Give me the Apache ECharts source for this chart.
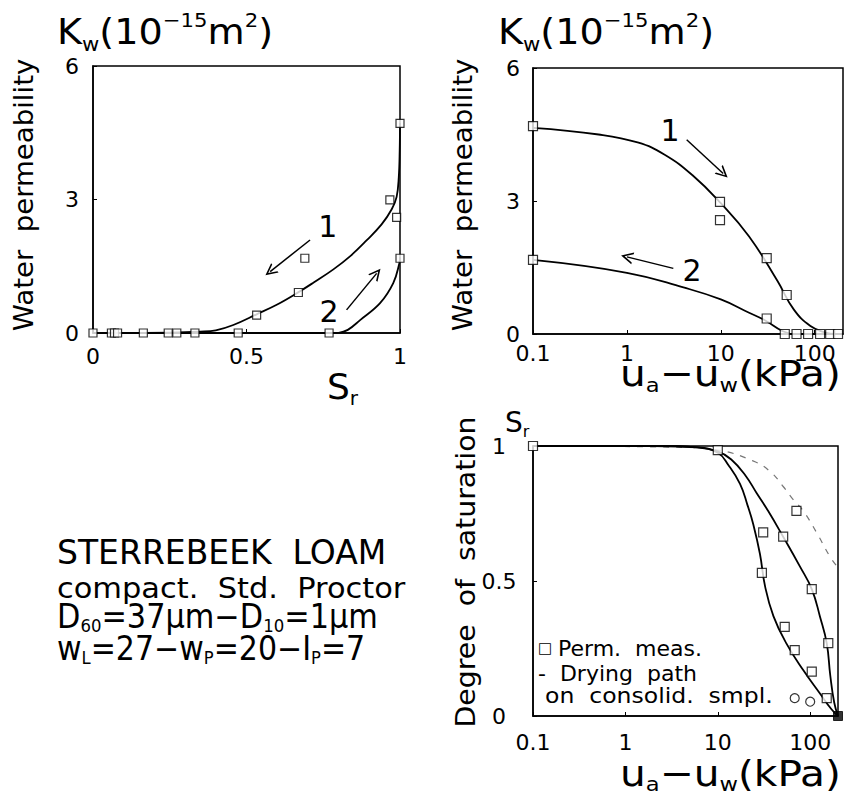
<!DOCTYPE html>
<html><head><meta charset="utf-8">
<script src="https://cdn.jsdelivr.net/npm/echarts@6/dist/echarts.min.js"></script>
<style>html,body{margin:0;padding:0;background:#fff}#c{width:845px;height:796px}</style>
</head><body><div id="c"></div>
<script>
// ---------- data: left panel (Kw vs Sr) ----------
const leftCurve1 = [[0,0],[0.25,0.01],[0.35,0.03],[0.4,0.06],[0.457,0.18],[0.533,0.42],[0.6,0.64],[0.663,0.89],[0.72,1.14],[0.783,1.43],[0.84,1.74],[0.891,2.08],[0.94,2.44],[0.973,2.78],[0.989,3.06],[0.996,3.5],[0.999,4.1],[1.0,4.72]];
const leftCurve2 = [[0,0],[0.78,0],[0.8,0.005],[0.83,0.07],[0.87,0.29],[0.935,0.67],[0.978,1.12],[0.998,1.57],[1.0,1.7]];
const leftMarkers = [[0,0],[0.06,0],[0.07,0],[0.08,0],[0.164,0],[0.245,0],[0.273,0],[0.332,0],[0.473,0],[0.769,0],[0.533,0.4],[0.669,0.91],[0.69,1.68],[0.967,2.99],[0.989,2.6],[1.0,4.71],[1.0,1.68]];
const leftArrows = [[[0.707,2.09],[0.577,1.38]],[[0.826,0.52],[0.924,1.34]]];
const leftLabels = [['1',0.765,2.40],['2',0.769,0.49]];

// ---------- data: top right panel (Kw vs suction) ----------
const rightCurve1 = [[0.1,4.65],[0.5,4.5],[1.3,4.32],[2.5,4.05],[5,3.58],[10,2.95],[20,2.2],[40,1.2],[60,0.55],[90,0.18],[130,0.03],[165,0],[200,0]];
const rightCurve2 = [[0.1,1.67],[1,1.38],[4,1.05],[10,0.78],[20,0.48],[30,0.3],[45,0.07],[60,0],[200,0]];
const rightMarkers = [[0.1,4.69],[9.8,2.98],[9.8,2.57],[30.8,1.71],[50.3,0.88],[48,0],[64,0],[85,0],[114,0],[146,0],[177,0],[0.1,1.67],[30.8,0.35]];
const rightArrows = [[[4.33,4.38],[10.6,3.62]],[[3.12,1.48],[1.0,1.74]]];
const rightLabels = [['1',2.88,4.6],['2',4.93,1.44]];

// ---------- data: bottom right panel (Sr vs suction) ----------
const satCurveA = [[0.1,1],[2,1],[6,0.995],[10,0.975],[13,0.93],[17.4,0.86],[21,0.78],[24.2,0.71],[28.6,0.6],[32.5,0.48],[40,0.37],[55,0.27],[84,0.17],[127,0.084],[170,0.025],[200,0]];
const satCurveB = [[0.1,1],[2,1],[6,0.995],[10,0.98],[14,0.95],[20,0.89],[26.4,0.825],[35,0.76],[51,0.664],[77.6,0.553],[104,0.47],[127.7,0.368],[151,0.27],[165,0.15],[182,0.05],[200,0]];
const satDrying = [[0.1,1],[4,0.995],[10,0.985],[24,0.945],[37,0.905],[51,0.85],[66,0.8],[84,0.76],[117,0.68],[164,0.59],[200,0.55]];
const satSquares = [[0.1,1],[10,0.985],[31,0.68],[30,0.53],[51,0.664],[71,0.76],[104,0.47],[53,0.33],[68,0.244],[104,0.164],[157,0.27],[151,0.066]];
const satCircles = [[68,0.066],[100,0.053]];
const satFilled = [[200,0]];

// ---------- tick labels ----------
const leftXTicks = ['0','0.5','1'];
const leftYTicks = ['0','3','6'];
const satYTicks = ['0','0.5','1'];
const logTicks = ['0.1','1','10','100'];

const FONT = 'DejaVu Sans';
const BLACK = '#000';
const CHEVRON = 'path://M5,0 L10,10 L8.5,10 L5,3 L1.5,10 L0,10 Z';

function logFmt(v){
  const l = Math.log10(v);
  if (Math.abs(l - Math.round(l)) < 1e-6) { return logTicks[Math.round(l) + 1] || ''; }
  return '';
}
function axisBase(extra){
  return Object.assign({
    axisLine:{show:true, lineStyle:{color:BLACK, width:1.5}},
    axisTick:{show:true, inside:true, length:4, lineStyle:{color:BLACK, width:1}},
    splitLine:{show:false},
  }, extra);
}
function lbl(margin, align){
  const o = {color:BLACK, fontSize:22, lineHeight:20, fontFamily:FONT, margin:margin};
  if (align) o.align = align;
  return o;
}
function curve(data, xi, extra){
  return Object.assign({type:'line', xAxisIndex:xi, yAxisIndex:xi, data:data, showSymbol:false, symbol:'none',
    smooth:0.45, lineStyle:{color:BLACK, width:1.8}, z:3, silent:true}, extra||{});
}
function markers(data, xi, size, extra){
  return Object.assign({type:'scatter', xAxisIndex:xi, yAxisIndex:xi, data:data, symbol:'rect', symbolSize:size,
    itemStyle:{color:'#fff', borderColor:BLACK, borderWidth:1.2}, clip:false, z:5, silent:true}, extra||{});
}
function arrows(list){
  return {silent:true, symbol:['none', CHEVRON], symbolSize:12, label:{show:false},
    itemStyle:{color:BLACK},
    lineStyle:{color:BLACK, width:1.5, type:'solid'}, emphasis:{disabled:true},
    data: list.map(a => [{coord:a[0]},{coord:a[1]}])};
}
function curveLabels(list){
  return {silent:true, symbol:'circle', symbolSize:1, itemStyle:{color:'rgba(0,0,0,0)'},
    label:{show:true, position:'inside', formatter:'{b}', color:BLACK, fontSize:30, fontFamily:FONT},
    data: list.map(l => ({name:l[0], coord:[l[1], l[2]]}))};
}

// ---------- text with sub/superscripts: a group of text pieces laid out left to right ----------
const measureCtx = document.createElement('canvas').getContext('2d');
function mixed(x, yCenter, parts, base, sx, subShift){
  const subSize = Math.round(base * 0.56);
  const shift = (subShift || 0.33) * base;
  let cx = 0; const children = [];
  parts.forEach(([t, k]) => {
    const size = k === 'b' ? base : subSize;
    const dy = k === 'b' ? 0 : (k === 's' ? shift : -shift);
    measureCtx.font = size + 'px "' + FONT + '"';
    children.push({type:'text', x:cx, y:dy, silent:true,
      style:{text:t, fontSize:size, lineHeight:Math.round(size*0.6), fontFamily:FONT, fill:BLACK, align:'left', verticalAlign:'middle'}});
    cx += measureCtx.measureText(t).width;
  });
  return {type:'group', x:x, y:yCenter, scaleX:sx || 1, silent:true, children:children};
}
function plainText(x, y, text, size, sx){
  return {type:'text', x:x, y:y, scaleX:sx||1, silent:true,
    style:{text:text, fontSize:size, fontFamily:FONT, fill:BLACK, align:'left', verticalAlign:'middle'}};
}
function vText(x, y, text, size, sx){
  return {type:'text', x:x, y:y, rotation:Math.PI/2, scaleX:sx||1, silent:true,
    style:{text:text, fontSize:size, fontFamily:FONT, fill:BLACK, align:'center', verticalAlign:'middle'}};
}

const KW = [['K','b'],['w','s'],['(10','b'],['−15','p'],['m','b'],['2','p'],[')','b']];
const SUCTION = [['u','b'],['a','s'],['−u','b'],['w','s'],['(kPa)','b']];
const SR = [['S','b'],['r','s']];
const LINE3 = [['D','b'],['60','s'],['=37μm−D','b'],['10','s'],['=1μm','b']];
const LINE4 = [['w','b'],['L','s'],['=27−w','b'],['P','s'],['=20−I','b'],['P','s'],['=7','b']];

const option = {
  animation:false,
  backgroundColor:'#fff',
  textStyle:{fontFamily:FONT},
  grid:[
    {left:93, top:66, width:307, height:267, show:true, borderColor:BLACK, borderWidth:1.5, backgroundColor:'transparent', outerBoundsMode:'none', containLabel:false},
    {left:533, top:68, width:310, height:266, show:true, borderColor:BLACK, borderWidth:1.5, backgroundColor:'transparent', outerBoundsMode:'none', containLabel:false},
    {left:533, top:446, width:305, height:270, show:true, borderColor:BLACK, borderWidth:1.5, backgroundColor:'transparent', outerBoundsMode:'none', containLabel:false}
  ],
  xAxis:[
    axisBase({gridIndex:0, type:'value', min:0, max:1, interval:0.5,
      axisLabel:Object.assign(lbl(13), {formatter:(v)=>leftXTicks[Math.round(v*2)]})}),
    axisBase({gridIndex:1, type:'log', logBase:10, min:0.1, max:200,
      axisLabel:Object.assign(lbl(9), {formatter:logFmt, showMaxLabel:false})}),
    axisBase({gridIndex:2, type:'log', logBase:10, min:0.1, max:200,
      axisLabel:Object.assign(lbl(16), {formatter:logFmt, showMaxLabel:false})})
  ],
  yAxis:[
    axisBase({gridIndex:0, type:'value', min:0, max:6, interval:3,
      axisLabel:Object.assign(lbl(21,'center'), {formatter:(v)=>leftYTicks[Math.round(v/3)]})}),
    axisBase({gridIndex:1, type:'value', min:0, max:6, interval:3,
      axisLabel:Object.assign(lbl(20,'center'), {formatter:(v)=>leftYTicks[Math.round(v/3)]})}),
    axisBase({gridIndex:2, type:'value', min:0, max:1, interval:0.5,
      axisLabel:Object.assign(lbl(34,'center'), {formatter:(v)=>satYTicks[Math.round(v*2)]})})
  ],
  series:[
    curve(leftCurve1, 0, {smooth:0.4, markLine:arrows(leftArrows), markPoint:curveLabels(leftLabels)}),
    curve(leftCurve2, 0, {smooth:0.4}),
    markers(leftMarkers, 0, 8),
    curve(rightCurve1, 1, {markLine:arrows(rightArrows), markPoint:curveLabels(rightLabels)}),
    curve(rightCurve2, 1),
    markers(rightMarkers, 1, 9),
    curve(satCurveA, 2),
    curve(satCurveB, 2),
    curve(satDrying, 2, {lineStyle:{color:'#777', width:1.2, type:[6,7]}, z:2}),
    markers(satSquares, 2, 9),
    markers(satCircles, 2, 9, {symbol:'circle'}),
    markers(satFilled, 2, 9, {itemStyle:{color:BLACK, borderColor:BLACK, borderWidth:1}})
  ],
  graphic:[
    mixed(57, 32, KW, 36, 1.06),
    mixed(498, 32, KW, 36, 1.06),
    mixed(327, 386, SR, 36, 1),
    mixed(505, 422, SR, 28, 1),
    mixed(620, 373, SUCTION, 36, 1.13),
    mixed(620, 773, SUCTION, 36, 1.13, 0.3),
    vText(24, 195, 'Water  permeability', 26, 1.06),
    vText(463, 195, 'Water  permeability', 26, 1.06),
    vText(466, 572, 'Degree  of  saturation', 26, 1.09),
    plainText(57, 552, 'STERREBEEK  LOAM', 33),
    plainText(57, 588, 'compact.  Std.  Proctor', 29, 1.05),
    mixed(57, 617, LINE3, 33, 0.92, 0.28),
    mixed(57, 648, LINE4, 33, 0.91, 0.28),
    plainText(538, 648, '□', 15),
    plainText(558, 648, 'Perm.  meas.', 22),
    plainText(538, 673, '-  Drying  path', 22),
    plainText(545, 695, 'on  consolid.  smpl.', 22, 1.07)
  ]
};

const chart = echarts.init(document.getElementById('c'), null, {renderer:'svg'});
chart.setOption(option);
</script></body></html>
